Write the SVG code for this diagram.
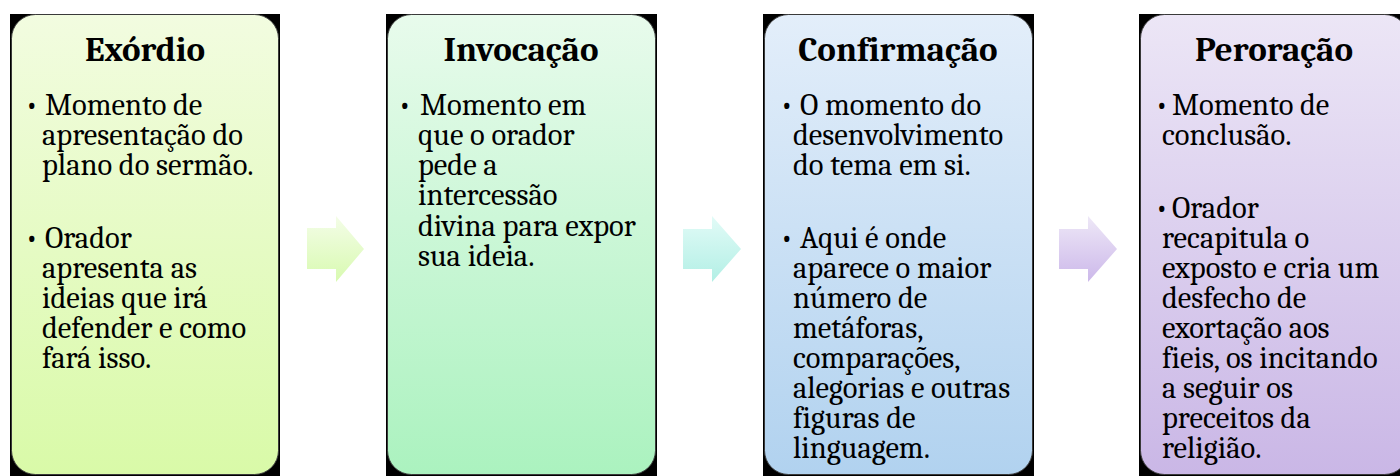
<svg xmlns="http://www.w3.org/2000/svg" width="1400" height="476" viewBox="0 0 1400 476">
<defs>
<linearGradient id="g1" x1="0" y1="0" x2="0" y2="1"><stop offset="0" stop-color="#f2fce0"/><stop offset="1" stop-color="#d9faa8"/></linearGradient>
<linearGradient id="g2" x1="0" y1="0" x2="0" y2="1"><stop offset="0" stop-color="#e8fbec"/><stop offset="1" stop-color="#abf2bf"/></linearGradient>
<linearGradient id="g3" x1="0" y1="0" x2="0" y2="1"><stop offset="0" stop-color="#e3eefa"/><stop offset="1" stop-color="#b1d2ef"/></linearGradient>
<linearGradient id="g4" x1="0" y1="0" x2="0" y2="1"><stop offset="0" stop-color="#ece6f6"/><stop offset="1" stop-color="#cab7e6"/></linearGradient>
<linearGradient id="a1" x1="0" y1="0" x2="0" y2="1"><stop offset="0" stop-color="#f4fde8"/><stop offset="1" stop-color="#d8fab0"/></linearGradient>
<linearGradient id="a2" x1="0" y1="0" x2="0" y2="1"><stop offset="0" stop-color="#e2fbf7"/><stop offset="1" stop-color="#b2efe5"/></linearGradient>
<linearGradient id="a3" x1="0" y1="0" x2="0" y2="1"><stop offset="0" stop-color="#eee8f7"/><stop offset="1" stop-color="#ccb8ea"/></linearGradient>
</defs>
<style>
.sh{fill:#000}
.bx{stroke:#3a3a3a;stroke-width:1}
.t{font-family:Caladea,"DejaVu Serif","Liberation Serif",serif;font-weight:bold;font-size:35px;fill:#000;text-anchor:middle}
.b{font-family:Caladea,"DejaVu Serif","Liberation Serif",serif;font-size:30.5px;fill:#000}
</style>
<g id="connectors">
<path d="M307 228H336V216L364 249L336 282V269H307Z" fill="url(#a1)"/>
<path d="M683 229H712V216L741 249L712 282V269H683Z" fill="url(#a2)"/>
<path d="M1059 229H1088V216L1117 249L1088 282V269H1059Z" fill="url(#a3)"/>
</g>
<g id="exordio">
<rect class="sh" x="10" y="14" width="270" height="470"/>
<rect class="bx" x="11.5" y="14.5" width="267" height="460" rx="24" fill="url(#g1)"/>
<text class="t" x="145" y="61">Exórdio</text>
<text class="b"><tspan x="25" y="115">•</tspan><tspan x="45" y="115">Momento de</tspan><tspan x="42" y="145">apresentação do</tspan><tspan x="42" y="175">plano do sermão.</tspan><tspan x="25" y="248">•</tspan><tspan x="45" y="248">Orador</tspan><tspan x="42" y="278">apresenta as</tspan><tspan x="42" y="308">ideias que irá</tspan><tspan x="42" y="338">defender e como</tspan><tspan x="42" y="368">fará isso.</tspan></text>
</g>
<g id="invocacao">
<rect class="sh" x="386" y="14" width="271" height="470"/>
<rect class="bx" x="387.5" y="14.5" width="268" height="460" rx="24" fill="url(#g2)"/>
<text class="t" x="521" y="61">Invocação</text>
<text class="b"><tspan x="398" y="115">•</tspan><tspan x="420" y="115">Momento em</tspan><tspan x="418" y="145">que o orador</tspan><tspan x="418" y="175">pede a</tspan><tspan x="418" y="205">intercessão</tspan><tspan x="418" y="236">divina para expor</tspan><tspan x="418" y="266">sua ideia.</tspan></text>
</g>
<g id="confirmacao">
<rect class="sh" x="763" y="14" width="271" height="470"/>
<rect class="bx" x="764.5" y="14.5" width="268" height="460" rx="24" fill="url(#g3)"/>
<text class="t" x="898" y="61">Confirmação</text>
<text class="b"><tspan x="780" y="115">•</tspan><tspan x="800" y="115">O momento do</tspan><tspan x="793" y="145">desenvolvimento</tspan><tspan x="793" y="175">do tema em si.</tspan><tspan x="780" y="248">•</tspan><tspan x="800" y="248">Aqui é onde</tspan><tspan x="793" y="278">aparece o maior</tspan><tspan x="793" y="308">número de</tspan><tspan x="793" y="338">metáforas,</tspan><tspan x="793" y="368">comparações,</tspan><tspan x="793" y="398">alegorias e outras</tspan><tspan x="793" y="428">figuras de</tspan><tspan x="793" y="458">linguagem.</tspan></text>
</g>
<g id="peroracao">
<rect class="sh" x="1139" y="14" width="271" height="470"/>
<rect class="bx" x="1140.5" y="14.5" width="268" height="460" rx="24" fill="url(#g4)"/>
<text class="t" x="1274" y="61">Peroração</text>
<text class="b"><tspan x="1155" y="115">•</tspan><tspan x="1172" y="115">Momento de</tspan><tspan x="1162" y="145">conclusão.</tspan><tspan x="1155" y="218">•</tspan><tspan x="1172" y="218">Orador</tspan><tspan x="1162" y="248">recapitula o</tspan><tspan x="1162" y="278">exposto e cria um</tspan><tspan x="1162" y="308">desfecho de</tspan><tspan x="1162" y="338">exortação aos</tspan><tspan x="1162" y="368">fieis, os incitando</tspan><tspan x="1162" y="398">a seguir os</tspan><tspan x="1162" y="428">preceitos da</tspan><tspan x="1162" y="458">religião.</tspan></text>
</g>
</svg>
